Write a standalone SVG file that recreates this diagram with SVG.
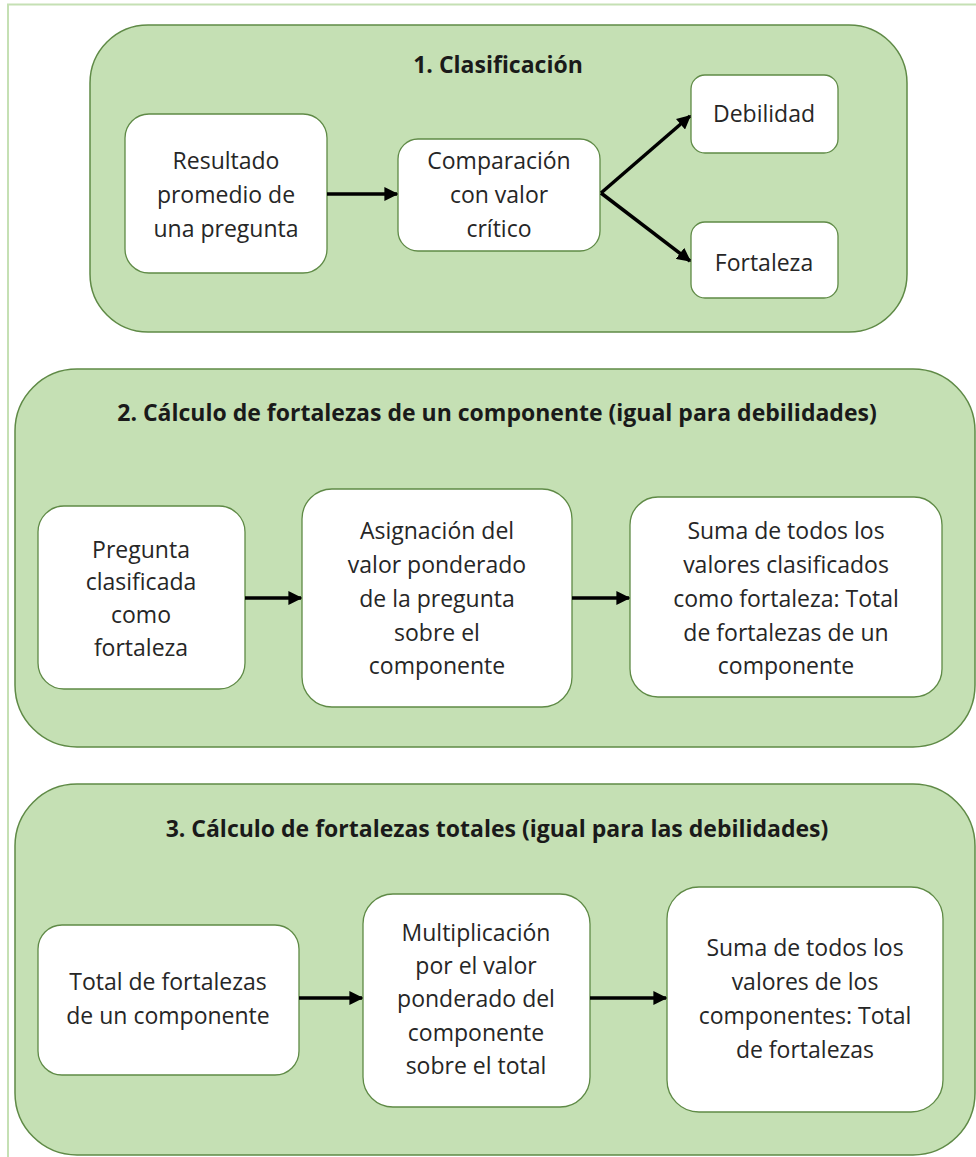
<svg xmlns="http://www.w3.org/2000/svg" width="976" height="1157" viewBox="0 0 976 1157">
<defs>
<style>
.frame{fill:none;stroke:#c5e0b4;stroke-width:2}
.grp{fill:#c5e0b4;stroke:#5f8a46;stroke-width:1.5}
.node{fill:#ffffff;stroke:#5f8a46;stroke-width:1.3}
.t{font-family:"Open Sans","Liberation Sans",sans-serif;font-size:23px;fill:#262626;text-anchor:middle;dominant-baseline:central}
.h{font-family:"Open Sans","Liberation Sans",sans-serif;font-size:23px;font-weight:bold;fill:#1a1a1a;text-anchor:middle;dominant-baseline:central}
.c{stroke:#000;stroke-width:3.5;fill:none}
</style>
<marker id="ah" viewBox="0 0 10 10" refX="9" refY="5" markerWidth="4" markerHeight="4" orient="auto" markerUnits="strokeWidth">
<path d="M0,0 L10,5 L0,10 z" fill="#000"/>
</marker>
</defs>
<rect width="976" height="1157" fill="#ffffff"/>
<path class="frame" d="M8,1157 V4.5 H976"/>

<g id="group1">
<rect class="grp" x="90" y="25" width="817" height="307" rx="58" ry="58"/>
<text class="h" x="498" y="64">1. Clasificación</text>
</g>
<g id="group2">
<rect class="grp" x="15" y="369" width="960" height="378" rx="62" ry="62"/>
<text class="h" x="497" y="412">2. Cálculo de fortalezas de un componente (igual para debilidades)</text>
</g>
<g id="group3">
<rect class="grp" x="15" y="784" width="960" height="371" rx="62" ry="62"/>
<text class="h" x="497" y="828">3. Cálculo de fortalezas totales (igual para las debilidades)</text>
</g>

<g id="n_resultado">
<rect class="node" x="125" y="114" width="202" height="159" rx="24"/>
<text class="t" x="226" y="160">Resultado</text>
<text class="t" x="226" y="194">promedio de</text>
<text class="t" x="226" y="228">una pregunta</text>
</g>
<g id="n_comparacion">
<rect class="node" x="398" y="139" width="202" height="112" rx="20"/>
<text class="t" x="499" y="160">Comparación</text>
<text class="t" x="499" y="194">con valor</text>
<text class="t" x="499" y="228">crítico</text>
</g>
<g id="n_debilidad">
<rect class="node" x="691" y="75" width="147" height="78" rx="14"/>
<text class="t" x="764" y="113">Debilidad</text>
</g>
<g id="n_fortaleza">
<rect class="node" x="691" y="222" width="147" height="76" rx="14"/>
<text class="t" x="764" y="262">Fortaleza</text>
</g>

<g id="n_pregunta">
<rect class="node" x="38" y="506" width="207" height="183" rx="26"/>
<text class="t" x="141" y="549">Pregunta</text>
<text class="t" x="141" y="581">clasificada</text>
<text class="t" x="141" y="614">como</text>
<text class="t" x="141" y="647">fortaleza</text>
</g>
<g id="n_asignacion">
<rect class="node" x="302" y="489" width="270" height="218" rx="30"/>
<text class="t" x="437" y="530">Asignación del</text>
<text class="t" x="437" y="564">valor ponderado</text>
<text class="t" x="437" y="598">de la pregunta</text>
<text class="t" x="437" y="632">sobre el</text>
<text class="t" x="437" y="665">componente</text>
</g>
<g id="n_suma1">
<rect class="node" x="630" y="497" width="312" height="200" rx="28"/>
<text class="t" x="786" y="530">Suma de todos los</text>
<text class="t" x="786" y="564">valores clasificados</text>
<text class="t" x="786" y="598">como fortaleza: Total</text>
<text class="t" x="786" y="632">de fortalezas de un</text>
<text class="t" x="786" y="665">componente</text>
</g>

<g id="n_total">
<rect class="node" x="38" y="925" width="261" height="150" rx="24"/>
<text class="t" x="168" y="981">Total de fortalezas</text>
<text class="t" x="168" y="1015">de un componente</text>
</g>
<g id="n_multiplicacion">
<rect class="node" x="363" y="894" width="227" height="213" rx="30"/>
<text class="t" x="476" y="932">Multiplicación</text>
<text class="t" x="476" y="965">por el valor</text>
<text class="t" x="476" y="998">ponderado del</text>
<text class="t" x="476" y="1032">componente</text>
<text class="t" x="476" y="1065">sobre el total</text>
</g>
<g id="n_suma2">
<rect class="node" x="667" y="887" width="276" height="225" rx="32"/>
<text class="t" x="805" y="947">Suma de todos los</text>
<text class="t" x="805" y="981">valores de los</text>
<text class="t" x="805" y="1015">componentes: Total</text>
<text class="t" x="805" y="1049">de fortalezas</text>
</g>

<g id="connectors">
<line class="c" x1="327" y1="194" x2="397" y2="194" marker-end="url(#ah)"/>
<line class="c" x1="601" y1="193" x2="690" y2="116" marker-end="url(#ah)"/>
<line class="c" x1="601" y1="193" x2="690" y2="261" marker-end="url(#ah)"/>
<line class="c" x1="245" y1="598" x2="301" y2="598" marker-end="url(#ah)"/>
<line class="c" x1="572" y1="598" x2="629" y2="598" marker-end="url(#ah)"/>
<line class="c" x1="299" y1="998" x2="362" y2="998" marker-end="url(#ah)"/>
<line class="c" x1="590" y1="998" x2="666" y2="998" marker-end="url(#ah)"/>
</g>
</svg>
